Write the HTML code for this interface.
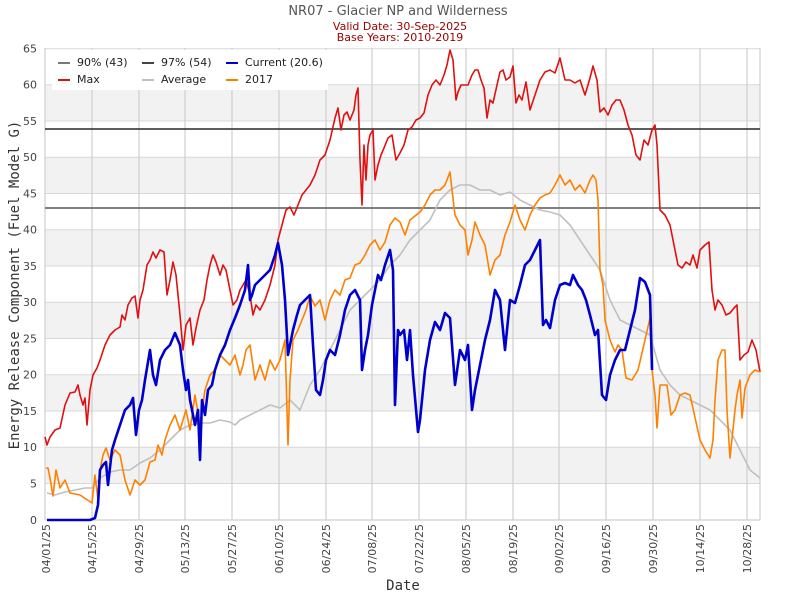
<!DOCTYPE html>
<html><head><meta charset="utf-8"><style>
html,body{margin:0;padding:0;background:#fff;}
svg{display:block;font-family:"DejaVu Sans","Liberation Sans",sans-serif;}
</style></head><body>
<svg width="800" height="600" viewBox="0 0 800 600" xmlns="http://www.w3.org/2000/svg">
<rect width="800" height="600" fill="#fff"/>
<text x="398" y="15" text-anchor="middle" font-size="13" fill="#555">NR07 - Glacier NP and Wilderness</text>
<text x="400" y="30" text-anchor="middle" font-size="11" fill="#9a0000">Valid Date: 30-Sep-2025</text>
<text x="400" y="41" text-anchor="middle" font-size="11" fill="#9a0000">Base Years: 2010-2019</text>
<!-- bands -->
<g fill="#f2f2f2">
<rect x="45" y="84.7" width="715" height="36.25"/>
<rect x="45" y="157.2" width="715" height="36.25"/>
<rect x="45" y="229.7" width="715" height="36.25"/>
<rect x="45" y="302.2" width="715" height="36.25"/>
<rect x="45" y="374.7" width="715" height="36.25"/>
<rect x="45" y="447.2" width="715" height="36.25"/>
</g>
<g stroke="#d8d8d8" stroke-width="1">
<line x1="45" x2="760" y1="48.75" y2="48.75"/><line x1="45" x2="760" y1="84.7" y2="84.7"/><line x1="45" x2="760" y1="121" y2="121"/><line x1="45" x2="760" y1="157.2" y2="157.2"/><line x1="45" x2="760" y1="193.5" y2="193.5"/><line x1="45" x2="760" y1="229.7" y2="229.7"/><line x1="45" x2="760" y1="266" y2="266"/><line x1="45" x2="760" y1="302.2" y2="302.2"/><line x1="45" x2="760" y1="338.5" y2="338.5"/><line x1="45" x2="760" y1="374.7" y2="374.7"/><line x1="45" x2="760" y1="411" y2="411"/><line x1="45" x2="760" y1="447.2" y2="447.2"/><line x1="45" x2="760" y1="483.5" y2="483.5"/>
</g>
<g stroke="#cfcfcf" stroke-width="1.2">
<line x1="92" x2="92" y1="48" y2="520"/><line x1="139" x2="139" y1="48" y2="520"/><line x1="185" x2="185" y1="48" y2="520"/><line x1="232" x2="232" y1="48" y2="520"/><line x1="279" x2="279" y1="48" y2="520"/><line x1="326" x2="326" y1="48" y2="520"/><line x1="372" x2="372" y1="48" y2="520"/><line x1="419" x2="419" y1="48" y2="520"/><line x1="466" x2="466" y1="48" y2="520"/><line x1="513" x2="513" y1="48" y2="520"/><line x1="559" x2="559" y1="48" y2="520"/><line x1="606" x2="606" y1="48" y2="520"/><line x1="653" x2="653" y1="48" y2="520"/><line x1="700" x2="700" y1="48" y2="520"/><line x1="747" x2="747" y1="48" y2="520"/>
<line x1="45" x2="45" y1="48" y2="520"/><line x1="760" x2="760" y1="48" y2="520"/><line x1="45" x2="760" y1="520" y2="520"/>
</g>
<line x1="45" x2="760" y1="208" y2="208" stroke="#6e6e6e" stroke-width="1.8"/>
<line x1="45" x2="760" y1="129" y2="129" stroke="#444" stroke-width="1.8"/>
<g fill="none" stroke-linejoin="round">
<polyline stroke="#c0c0c0" stroke-width="1.6" points="47,493 55,495 65,492 75,490 85,488 92,488 100,478 110,472 120,470 130,470 140,463 150,458 160,450 170,440 180,430 190,425 200,423 210,423 220,420 230,422 235,425 240,420 250,415 260,410 270,405 280,408 290,400 300,410 310,385 320,370 330,350 340,330 350,310 360,300 370,290 380,280 390,265 400,255 410,240 420,230 430,220 440,200 450,190 460,185 470,185 480,190 490,190 500,195 510,192 520,200 530,205 540,210 550,212 560,215 570,225 580,240 590,255 600,270 610,300 620,320 630,325 640,330 650,335 660,370 670,385 680,395 690,400 700,405 710,410 720,420 730,430 740,450 750,470 760,478"/>
<polyline stroke="#e01010" stroke-width="1.6" points="45,437 47,445 50,437 55,430 60,428 65,405 70,393 75,392 78,385 80,395 83,405 85,398 87,425 90,390 93,375 97,368 100,360 105,345 110,335 115,330 120,327 122,315 125,320 128,305 132,298 135,296 138,318 140,300 143,290 147,265 150,260 153,252 156,258 160,250 164,252 167,295 170,280 173,262 176,275 180,315 183,350 186,325 190,318 193,345 196,328 200,310 204,300 207,280 210,265 213,255 216,262 220,275 223,265 226,270 230,290 233,305 237,300 240,290 243,285 246,280 250,295 253,315 256,305 260,310 265,300 270,285 275,265 278,240 282,225 286,210 290,207 294,215 298,205 302,195 306,190 310,185 315,175 320,160 325,155 330,140 335,118 338,108 341,130 344,115 347,112 350,120 354,110 356,95 358,88 360,160 362,205 364,145 366,180 368,145 370,135 373,130 375,180 378,165 381,155 384,148 388,138 392,135 396,160 400,153 404,145 408,130 412,127 416,120 420,118 424,113 428,95 432,85 436,80 440,85 444,75 447,65 450,50 453,60 456,100 458,92 461,85 464,85 468,85 472,75 475,70 478,70 481,80 484,88 487,118 490,100 493,103 497,85 500,72 503,70 506,80 510,77 513,66 516,103 519,95 522,100 526,82 530,110 535,95 540,80 545,72 550,70 555,73 560,58 565,80 570,80 575,83 580,80 585,95 590,78 593,66 597,80 600,112 604,108 608,115 612,105 616,100 620,100 624,110 628,125 632,135 636,155 640,160 644,140 648,145 652,130 655,125 657,145 660,210 665,215 670,225 675,250 678,265 682,268 686,262 690,265 693,255 697,268 700,250 705,245 709,242 712,290 715,310 718,300 722,305 726,315 730,313 734,308 737,305 740,360 744,355 748,352 752,340 756,350 760,372"/>
<polyline stroke="#ff8000" stroke-width="1.6" points="46,468 48,468 50,478 53,496 56,470 60,488 65,480 70,493 80,495 92,503 95,475 98,500 100,470 103,455 106,448 110,460 115,450 120,455 125,480 130,495 135,480 140,485 145,480 150,462 155,460 158,445 162,455 165,440 170,425 175,415 180,430 183,420 186,410 190,430 195,395 200,425 205,390 210,375 215,370 220,355 225,360 230,365 235,355 240,375 243,365 246,350 250,345 255,380 260,365 265,380 270,360 275,370 280,360 285,340 288,445 290,380 293,340 298,330 302,320 306,310 310,296 315,306 320,300 325,320 330,300 335,290 340,295 345,280 350,278 355,265 360,263 365,255 370,245 375,240 380,250 385,242 390,225 395,218 400,222 405,235 410,220 420,212 425,205 430,195 435,190 440,190 445,185 450,172 452,190 455,215 460,225 465,230 468,255 472,240 475,222 480,235 485,245 490,275 495,260 500,255 505,235 510,222 515,205 520,220 525,230 530,215 535,205 540,198 545,195 550,193 555,185 560,175 565,185 570,180 575,190 580,185 585,193 590,180 593,175 596,180 598,200 600,270 603,285 605,320 610,340 615,352 618,345 622,350 626,378 632,380 638,370 645,340 650,318 652,370 655,395 657,428 660,385 664,385 667,385 671,415 675,410 680,395 685,393 690,395 700,440 705,450 710,458 713,440 715,400 718,360 722,350 725,350 727,410 730,458 735,410 737,395 740,380 742,418 745,388 750,375 755,370 760,372"/>
<polyline stroke="#0000cc" stroke-width="2.6" points="47,520 90,520 95,518 98,505 100,470 103,465 106,462 108,485 112,450 115,440 120,425 125,410 130,405 133,398 136,435 139,410 142,400 145,380 150,350 153,375 156,385 160,360 165,350 170,345 175,333 180,345 183,370 186,390 188,380 190,400 195,425 198,410 200,460 202,400 205,415 208,390 212,385 215,370 220,355 225,345 230,330 235,318 240,305 245,290 248,265 250,300 252,295 255,285 260,280 265,275 270,270 275,255 278,243 282,265 285,300 288,355 290,345 293,330 297,315 300,305 305,300 310,295 313,345 316,390 320,395 323,380 326,360 330,350 335,355 340,335 345,310 350,295 355,290 360,300 362,370 365,350 368,335 372,305 375,290 378,275 381,280 385,265 390,250 393,270 395,405 398,330 400,335 404,330 407,360 410,330 413,375 418,432 420,420 425,370 430,340 435,322 440,330 445,313 450,318 455,385 460,350 465,360 468,345 472,410 475,390 480,365 485,340 490,320 495,290 500,300 505,350 510,300 515,303 520,285 525,265 530,260 535,250 540,240 543,325 546,320 550,328 555,300 560,285 565,283 570,285 573,275 578,285 582,290 586,300 590,315 595,335 598,330 602,395 606,400 610,375 615,360 620,350 625,350 630,330 635,310 640,278 645,282 650,295 652,370"/>
</g>
<!-- legend -->
<rect x="52" y="50" width="276" height="40" fill="#fff"/>
<g stroke-width="2">
<line x1="58" x2="70" y1="63" y2="63" stroke="#777"/><line x1="142" x2="154" y1="63" y2="63" stroke="#444"/><line x1="226" x2="238" y1="63" y2="63" stroke="#0000cc"/>
<line x1="58" x2="70" y1="80" y2="80" stroke="#e01010"/><line x1="142" x2="154" y1="80" y2="80" stroke="#c0c0c0"/><line x1="226" x2="238" y1="80" y2="80" stroke="#ff8000"/>
</g>
<g font-size="11" fill="#222">
<text x="77" y="66">90% (43)</text><text x="161" y="66">97% (54)</text><text x="245" y="66">Current (20.6)</text>
<text x="77" y="83">Max</text><text x="161" y="83">Average</text><text x="245" y="83">2017</text>
</g>
<g font-size="11" fill="#444" text-anchor="end">
<text x="37" y="52.5">65</text><text x="37" y="88.5">60</text><text x="37" y="125">55</text><text x="37" y="161">50</text><text x="37" y="197.5">45</text><text x="37" y="233.5">40</text><text x="37" y="270">35</text><text x="37" y="306">30</text><text x="37" y="342.5">25</text><text x="37" y="378.5">20</text><text x="37" y="415">15</text><text x="37" y="451">10</text><text x="37" y="487.5">5</text><text x="37" y="524">0</text>
</g>
<g font-size="11" fill="#444" text-anchor="end">
<text transform="translate(50,524) rotate(-90)">04/01/25</text>
<text transform="translate(96,524) rotate(-90)">04/15/25</text>
<text transform="translate(143,524) rotate(-90)">04/29/25</text>
<text transform="translate(189,524) rotate(-90)">05/13/25</text>
<text transform="translate(236,524) rotate(-90)">05/27/25</text>
<text transform="translate(283,524) rotate(-90)">06/10/25</text>
<text transform="translate(330,524) rotate(-90)">06/24/25</text>
<text transform="translate(376,524) rotate(-90)">07/08/25</text>
<text transform="translate(423,524) rotate(-90)">07/22/25</text>
<text transform="translate(470,524) rotate(-90)">08/05/25</text>
<text transform="translate(517,524) rotate(-90)">08/19/25</text>
<text transform="translate(563,524) rotate(-90)">09/02/25</text>
<text transform="translate(610,524) rotate(-90)">09/16/25</text>
<text transform="translate(657,524) rotate(-90)">09/30/25</text>
<text transform="translate(704,524) rotate(-90)">10/14/25</text>
<text transform="translate(751,524) rotate(-90)">10/28/25</text>
</g>
<text x="403" y="590" text-anchor="middle" font-size="14" fill="#333" font-family="DejaVu Sans Mono, Liberation Mono, monospace">Date</text>
<text transform="translate(19,285) rotate(-90)" text-anchor="middle" font-size="14" fill="#333" font-family="DejaVu Sans Mono, Liberation Mono, monospace">Energy Release Component (Fuel Model G)</text>
</svg>
</body></html>
